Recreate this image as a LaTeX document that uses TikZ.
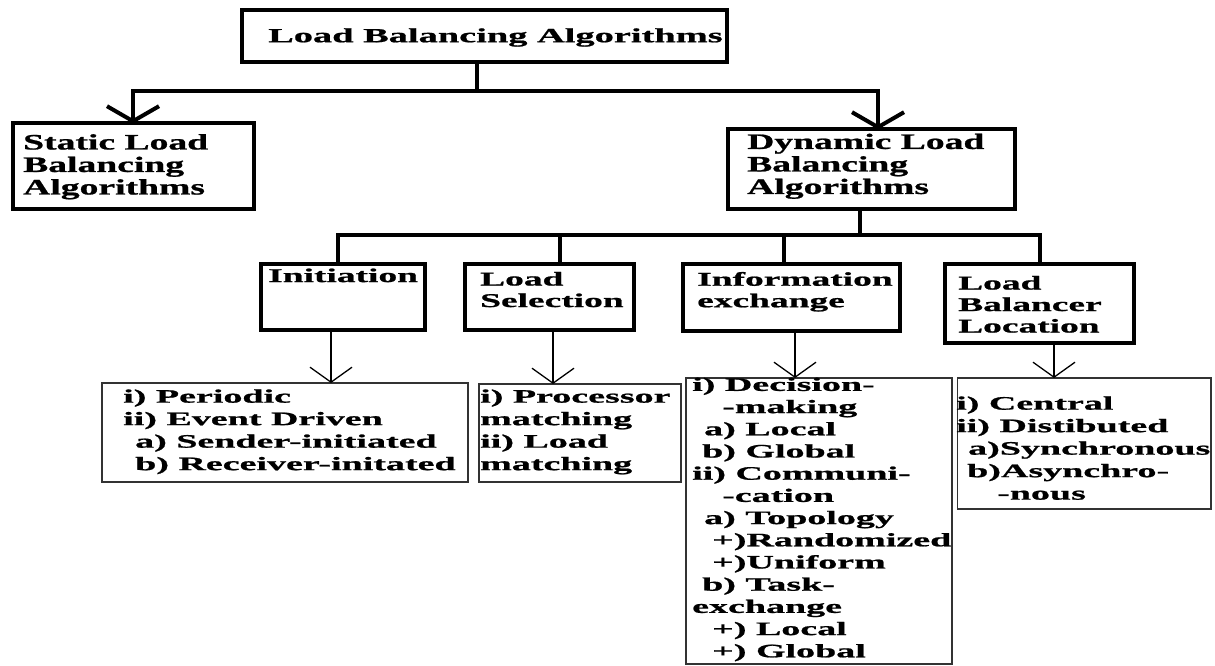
\documentclass[tikz,border=0pt]{standalone}
\usepackage{fontspec}
\usepackage{tikz}
\usetikzlibrary{arrows.meta}
\newfontfamily\wideserif[FakeStretch=1.92,FakeBold=1]{Liberation Serif}
\newfontfamily\tallserif[FakeStretch=1.71,FakeBold=1]{Liberation Serif}
\newfontfamily\listserif[FakeStretch=2.0,FakeBold=1]{Liberation Serif}
\newcommand{\txtsize}[2]{\fontsize{#1}{#2}\selectfont\bfseries}

\begin{document}
\begin{tikzpicture}[x=1pt,y=-1pt,
	bigbox/.style={draw,line width=4pt,outer sep=0pt,inner sep=0pt},
	listbox/.style={draw=black!80,line width=1.5pt,outer sep=0pt,inner sep=0pt},
	boxtxt/.style={anchor=north west,inner sep=0pt,align=left,execute at begin node=\strut},
	titletxt/.style={boxtxt,font=\wideserif\txtsize{20pt}{22.5pt}},
	algtxt/.style={boxtxt,font=\tallserif\txtsize{22pt}{22.5pt}},
	midtxt/.style={boxtxt,font=\wideserif\txtsize{19.5pt}{21.5pt}},
	listtxt/.style={boxtxt,font=\listserif\txtsize{19pt}{22.5pt}},
	busline/.style={line width=4pt},
	bigarrow/.style={line width=4pt,-{Straight Barb[length=15pt,width=52pt]}},
	thinarrow/.style={line width=1.3pt,-{Straight Barb[length=15pt,width=42pt]}}]
	\useasboundingbox (0,0) rectangle (1215,666);
	\node[bigbox,minimum width=485pt,minimum height=52pt] (LBA) at (484,36) {};
	\node[bigbox,minimum width=241pt,minimum height=85pt] (SLB) at (133,166) {};
	\node[bigbox,minimum width=287pt,minimum height=79pt] (DLB) at (871,169) {};
	\node[bigbox,minimum width=164pt,minimum height=66pt] (Ini) at (343,297) {};
	\node[bigbox,minimum width=169pt,minimum height=66pt] (LS) at (549.5,297) {};
	\node[bigbox,minimum width=217pt,minimum height=67pt] (IE) at (791.5,297.5) {};
	\node[bigbox,minimum width=189pt,minimum height=79pt] (LBL) at (1039.5,303.5) {};
	\node[listbox,minimum width=366pt,minimum height=99pt] (Ini2) at (285,432.5) {};
	\node[listbox,minimum width=202pt,minimum height=98pt] (LS2) at (580,433) {};
	\node[listbox,minimum width=266pt,minimum height=286pt] (IE2) at (819,521) {};
	\node[listbox,minimum width=253.5pt,minimum height=131pt] (LBL2) at (1084,443.5) {};
	% texts
	\node[titletxt] (LBAtxt) at (268,26.25) {Load Balancing Algorithms};
	\node[algtxt] (SLBtxt) at (23,134) {Static Load\\Balancing\\Algorithms};
	\node[algtxt] (DLBtxt) at (747,133.5) {Dynamic Load\\Balancing\\Algorithms};
	\node[midtxt] (Initxt) at (268,266.8) {Initiation};
	\node[midtxt] (LStxt) at (480,271.8) {Load\\Selection};
	\node[midtxt] (IEtxt) at (697,271.8) {Information\\exchange};
	\node[midtxt] (LBLtxt) at (958,275.8) {Load\\Balancer\\Location};
	\node[listtxt] (Ini2txt) at (123,389.25) {i) Periodic\\ii) Event Driven\\\hspace*{12pt}a) Sender-initiated\\\hspace*{12pt}b) Receiver-initated};
	\node[listtxt] (LS2txt) at (480,389.25) {i) Processor\\matching\\ii) Load\\matching};
	\node[listtxt,font=\listserif\txtsize{19pt}{22.2pt}] (IE2txt) at (692,377.5) {i) Decision-\\\hspace*{30pt}-making\\\hspace*{12pt}a) Local\\\hspace*{10pt}b) Global\\ii) Communi-\\\hspace*{30pt}-cation\\\hspace*{12pt}a) Topology\\\hspace*{20pt}+)Randomized\\\hspace*{20pt}+)Uniform\\\hspace*{10pt}b) Task-\\exchange\\\hspace*{20pt}+) Local\\\hspace*{20pt}+) Global};
	\node[listtxt] (LBL2txt) at (956,396.25) {i) Central\\ii) Distibuted\\\hspace*{12pt}a)Synchronous\\\hspace*{11pt}b)Asynchro-\\\hspace*{41pt}-nous};
	% top level
	\coordinate (bus1) at (0,91);
	\draw[busline] ([xshift=-7pt]LBA.south) -- ([xshift=-7pt]LBA.south |- bus1);
	\draw[bigarrow] ([xshift=-7pt]LBA.south |- bus1) -| (SLB.north);
	\draw[bigarrow] ([xshift=-7pt]LBA.south |- bus1) -| ([xshift=7pt]DLB.north);
	% second level
	\coordinate (bus2) at (0,235);
	\draw[busline] ([xshift=-11pt]DLB.south) -- ([xshift=-11pt]DLB.south |- bus2);
	\draw[busline] ([xshift=-5pt]Ini.north) |- (LBL.north |- bus2) -- (LBL.north);
	\draw[busline] ([xshift=10pt]LS.north) -- ([xshift=10pt]LS.north |- bus2);
	\draw[busline] ([xshift=-8pt]IE.north) -- ([xshift=-8pt]IE.north |- bus2);
	\draw[thinarrow] ([xshift=-12pt]Ini.south) -- ([xshift=-12pt]Ini.south |- Ini2.north);
	\draw[thinarrow] ([xshift=3.5pt]LS.south) -- ([xshift=3.5pt]LS.south |- LS2.north);
	\draw[thinarrow] ([xshift=3.5pt]IE.south) -- ([xshift=3.5pt]IE.south |- IE2.north);
	\draw[thinarrow] ([xshift=14.5pt]LBL.south) -- ([xshift=14.5pt]LBL.south |- LBL2.north);
	%\draw [red] (current bounding box.south west) rectangle (current bounding box.north east);
\end{tikzpicture}
\end{document}
